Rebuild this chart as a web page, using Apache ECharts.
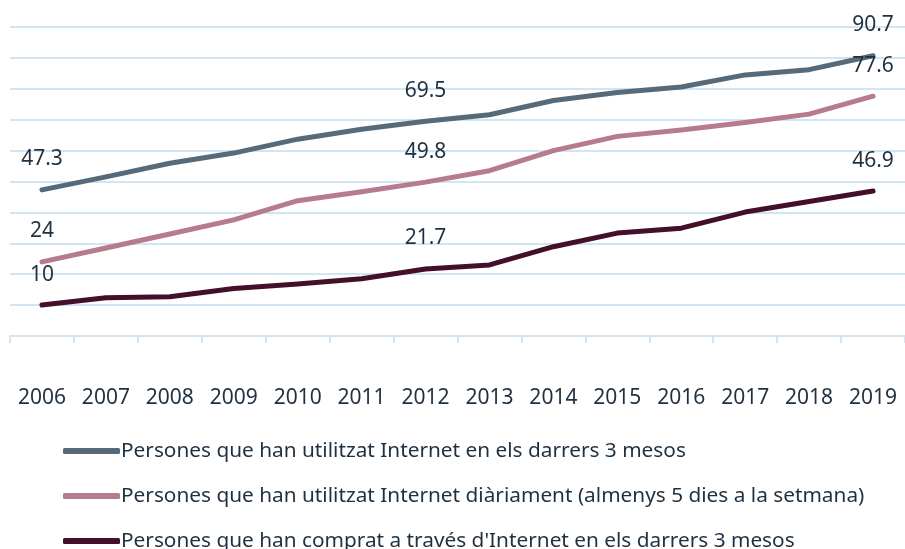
<!DOCTYPE html>
<html>
<head>
<meta charset="utf-8">
<script src="https://cdn.jsdelivr.net/npm/echarts@6/dist/echarts.min.js"></script>
<style>
  html, body { margin: 0; padding: 0; background: #fff; }
  #main { width: 905px; height: 549px; }
</style>
</head>
<body>
<div id="main"></div>
<script>
// anys
const years = ['2006', '2007', '2008', '2009', '2010', '2011', '2012', '2013', '2014', '2015', '2016', '2017', '2018', '2019'];

// noms de les series
const seriesNames = [
  'Persones que han utilitzat Internet en els darrers 3 mesos',
  'Persones que han utilitzat Internet diàriament (almenys 5 dies a la setmana)',
  "Persones que han comprat a través d'Internet en els darrers 3 mesos"
];

// valors (%)
const usedLast3Months = [47.3, 51.5, 55.9, 59.2, 63.7, 66.9, 69.5, 71.6, 76.2, 78.8, 80.6, 84.5, 86.2, 90.7];
const usedDaily = [24, 28.5, 33, 37.6, 43.8, 46.7, 49.8, 53.5, 60, 64.6, 66.7, 69.1, 71.8, 77.6];
const boughtLast3Months = [10, 12.4, 12.7, 15.4, 16.8, 18.5, 21.7, 23, 28.9, 33.3, 34.9, 40.1, 43.5, 46.9];

// punts amb etiqueta
const labelledIdx = [0, 6, 13];

const colors = ['#566a7a', '#b77b8e', '#440f29'];
const textColor = '#1f3141';
const gridColor = '#d2e5f2';

const myChart = echarts.init(document.getElementById('main'));

function makeSeries(name, values, color) {
  // nomes els punts de labelledIdx porten etiqueta
  const data = values.map(function (v, i) {
    return {
      value: v,
      label: { show: labelledIdx.indexOf(i) >= 0 }
    };
  });
  return {
    name: name,
    type: 'line',
    data: data,
    symbol: 'circle',
    symbolSize: 4,
    showSymbol: true,
    lineStyle: { color: color, width: 5, cap: 'round', join: 'round' },
    itemStyle: { color: color },
    label: {
      position: 'top',
      distance: 18,
      fontFamily: 'Noto Sans',
      fontSize: 21,
      color: textColor
    },
    emphasis: { disabled: true },
    z: 3
  };
}

const option = {
  animation: false,
  backgroundColor: '#fff',
  grid: {
    left: 10,
    top: 27,
    width: 903,
    height: 309
  },
  xAxis: {
    type: 'category',
    boundaryGap: true,
    data: years,
    axisLine: { show: true, lineStyle: { color: gridColor, width: 2 } },
    axisTick: { show: true, length: 7, lineStyle: { color: gridColor, width: 2 } },
    axisLabel: {
      margin: 52,
      fontFamily: 'Noto Sans',
      fontSize: 21,
      color: textColor,
      interval: 0
    },
    splitLine: { show: false }
  },
  yAxis: {
    type: 'value',
    min: 0,
    max: 100,
    interval: 10,
    axisLine: { show: false },
    axisTick: { show: false },
    axisLabel: { show: false },
    splitLine: { show: true, lineStyle: { color: gridColor, width: 2 } }
  },
  legend: {
    orient: 'vertical',
    left: 63,
    top: 440,
    height: 140,
    padding: 0,
    icon: 'roundRect',
    itemWidth: 57,
    itemHeight: 6,
    itemGap: 23,
    textStyle: {
      fontFamily: 'Noto Sans',
      fontSize: 20.8,
      lineHeight: 22,
      color: textColor,
      padding: [0, 0, 0, -4]
    },
    data: seriesNames
  },
  series: [
    makeSeries(seriesNames[0], usedLast3Months, colors[0]),
    makeSeries(seriesNames[1], usedDaily, colors[1]),
    makeSeries(seriesNames[2], boughtLast3Months, colors[2])
  ]
};

option && myChart.setOption(option);
</script>
</body>
</html>
